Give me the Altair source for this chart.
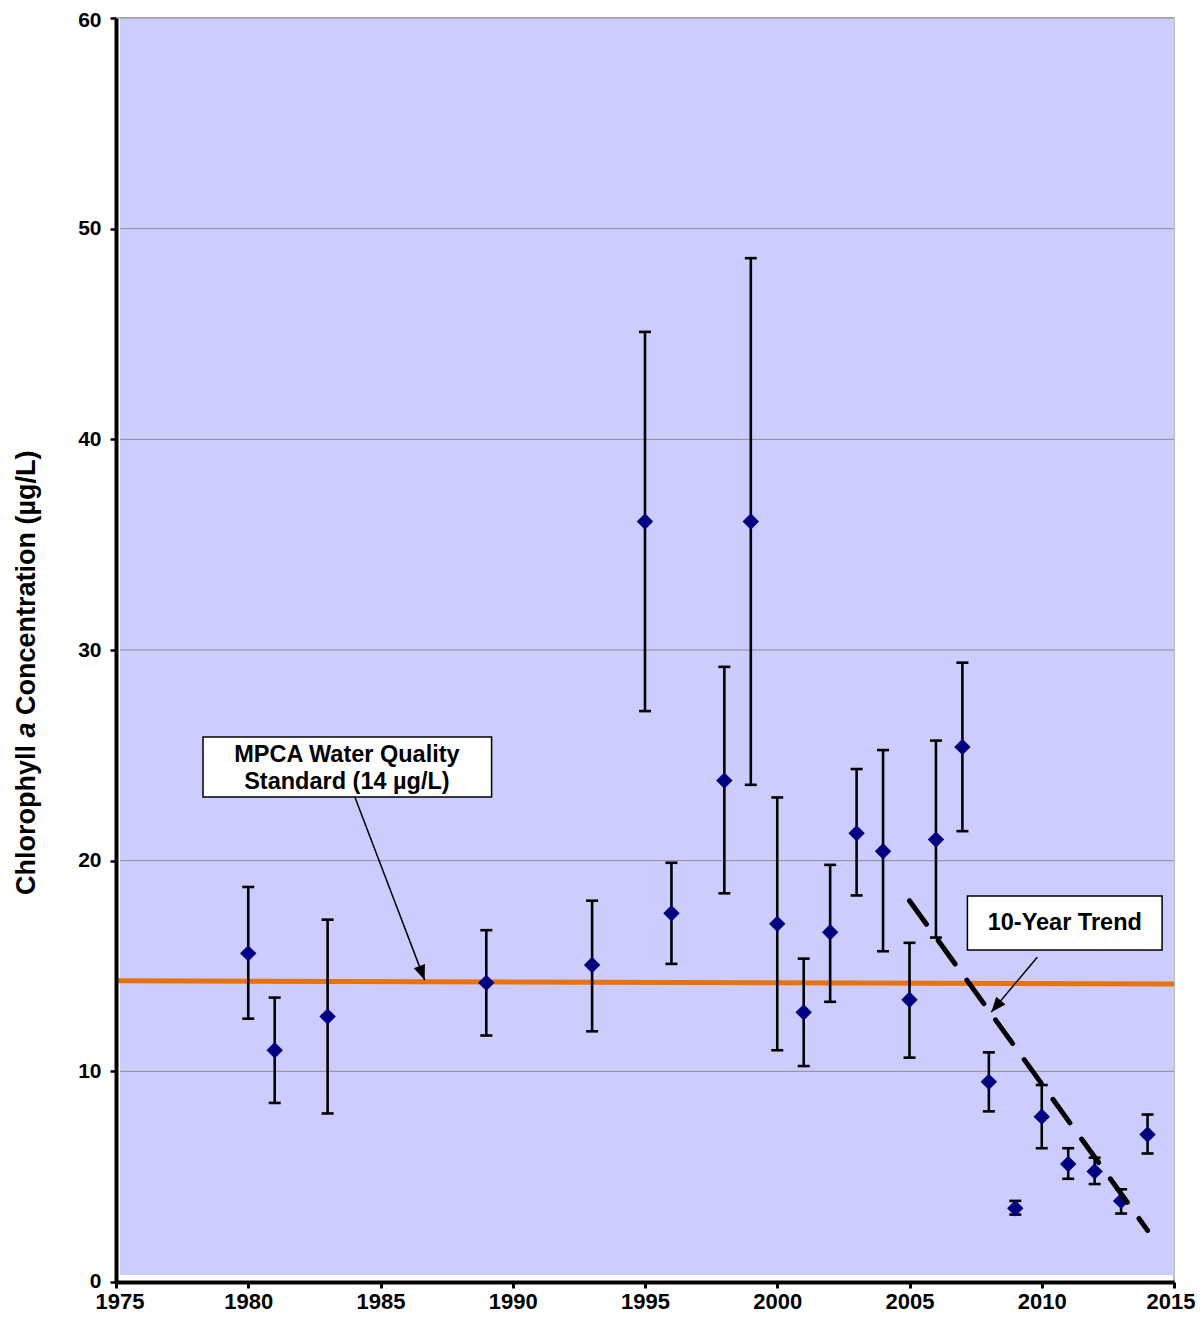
import altair as alt
import pandas as pd

# ---------------- data ----------------
years = [1980, 1981, 1983, 1989, 1993, 1995, 1996, 1998, 1999, 2000, 2001, 2002,
         2003, 2004, 2005, 2006, 2007, 2008, 2009, 2010, 2011, 2012, 2013, 2014]
means = [15.6, 11.0, 12.6, 14.2, 15.05, 36.1, 17.5, 23.8, 36.1, 17.0, 12.8, 16.6,
         21.3, 20.45, 13.4, 21.0, 25.4, 9.5, 3.5, 7.85, 5.6, 5.25, 3.85, 7.0]
uppers = [18.75, 13.5, 17.2, 16.7, 18.1, 45.1, 19.9, 29.2, 48.6, 23.0, 15.35, 19.8,
          24.35, 25.25, 16.1, 25.7, 29.4, 10.9, 3.85, 9.35, 6.35, 5.9, 4.4, 7.95]
lowers = [12.5, 8.5, 8.0, 11.7, 11.9, 27.1, 15.1, 18.45, 23.6, 11.0, 10.25, 13.3,
          18.35, 15.7, 10.65, 16.35, 21.4, 8.1, 3.2, 6.35, 4.9, 4.65, 3.25, 6.1]

std_x = [1975, 2015]
std_y = [14.3, 14.15]

trend_x = [2005, 2014]
trend_y = [18.1, 2.45]

x_ticks = [1975, 1980, 1985, 1990, 1995, 2000, 2005, 2010, 2015]
y_ticks = [0, 10, 20, 30, 40, 50, 60]
grid_vals = [10, 20, 30, 40, 50, 60]

box_x1 = [1978.29, 2007.19]
box_x2 = [1989.2, 2014.55]
box_y1 = [25.87, 18.32]
box_y2 = [23.02, 15.76]

text_lines = ["MPCA Water Quality", "Standard (14 µg/L)", "10-Year Trend"]
text_x = [1983.73, 1983.73, 2010.87]
text_y = [25.03, 23.75, 17.04]

arrow_x1 = [1984.03, 2009.83]
arrow_y1 = [23.02, 15.42]
arrow_x2 = [1986.67, 2008.09]
arrow_y2 = [14.33, 12.81]
arrow_angle = [159.1, 219.9]

# ---------------- layout ----------------
W, H = 1058, 1264
FONT = "Liberation Sans"

df = pd.DataFrame({"year": years, "mean": means, "upper": uppers, "lower": lowers})
std_df = pd.DataFrame({"x": std_x, "y": std_y})
trend_df = pd.DataFrame({"x": trend_x, "y": trend_y})
grid_df = pd.DataFrame({"g": grid_vals})
box_df = pd.DataFrame({"x1": box_x1, "x2": box_x2, "y1": box_y1, "y2": box_y2})
text_df = pd.DataFrame({"t": text_lines, "x": text_x, "y": text_y})
arrow_df = pd.DataFrame({"x1": arrow_x1, "y1": arrow_y1, "x2": arrow_x2, "y2": arrow_y2,
                         "ang": arrow_angle})
one = pd.DataFrame({"a": [0]})


def xenc(field):
    return alt.X(f"{field}:Q",
                 scale=alt.Scale(domain=[1975, 2015], nice=False, zero=False),
                 axis=alt.Axis(values=x_ticks, format="d", title=None, grid=False, zindex=1,
                               domainColor="black", domainWidth=4,
                               tickColor="black", tickWidth=3, tickSize=6,
                               labelFont=FONT, labelFontSize=22, labelFontWeight="bold",
                               labelColor="black", labelPadding=3, labelFlush=True,
                               labelFlushOffset=21, labelOverlap=False))


def yenc(field):
    return alt.Y(f"{field}:Q",
                 scale=alt.Scale(domain=[0, 60], nice=False, zero=True),
                 axis=alt.Axis(values=y_ticks, format="d", title=None, grid=False, zindex=1,
                               domainColor="black", domainWidth=4,
                               tickColor="black", tickWidth=2.5, tickSize=6,
                               labelFont=FONT, labelFontSize=21, labelFontWeight="bold",
                               labelColor="black", labelPadding=9, labelFlush=True,
                               labelFlushOffset=9, labelOverlap=False))


bg = alt.Chart(one).mark_rect(color="#CCCCFF").encode(
    x=alt.value(4), x2=alt.value(W), y=alt.value(0), y2=alt.value(H - 7))

grid = alt.Chart(grid_df).mark_rule(color="#8c8c8c", strokeWidth=1).encode(
    y=yenc("g"), x=alt.value(4), x2=alt.value(W))

std_line = alt.Chart(std_df).mark_line(color="#E8720C", strokeWidth=5).encode(
    x=xenc("x"), y=yenc("y"))

err = alt.Chart(df).mark_rule(color="black", strokeWidth=2.6).encode(
    x=xenc("year"), y=yenc("lower"), y2="upper:Q")

cap_hi = alt.Chart(df).mark_tick(color="black", orient="horizontal", size=12,
                                 thickness=2.6, opacity=1).encode(
    x=xenc("year"), y=yenc("upper"))
cap_lo = alt.Chart(df).mark_tick(color="black", orient="horizontal", size=12,
                                 thickness=2.6, opacity=1).encode(
    x=xenc("year"), y=yenc("lower"))

pts = alt.Chart(df).mark_point(shape="diamond", filled=True, size=270,
                               color="#000080", opacity=1).encode(
    x=xenc("year"), y=yenc("mean"))

trend = alt.Chart(trend_df).mark_line(color="black", strokeWidth=5,
                                      strokeDash=[29, 20], strokeCap="round").encode(
    x=xenc("x"), y=yenc("y"))

arrows = alt.Chart(arrow_df).mark_rule(color="black", strokeWidth=1.5).encode(
    x=xenc("x1"), y=yenc("y1"), x2="x2:Q", y2="y2:Q")

heads = alt.Chart(arrow_df).mark_point(shape="M0,0L-0.4,1L0.4,1Z", filled=True,
                                       size=900, color="black", opacity=1).encode(
    x=xenc("x2"), y=yenc("y2"), angle=alt.Angle("ang:Q", scale=None))

boxes = alt.Chart(box_df).mark_rect(fill="white", stroke="black", strokeWidth=1.5).encode(
    x=xenc("x1"), x2="x2:Q", y=yenc("y1"), y2="y2:Q")

texts = alt.Chart(text_df).mark_text(font=FONT, fontSize=23.5, fontWeight="bold",
                                     color="black", align="center", baseline="middle").encode(
    x=xenc("x"), y=yenc("y"), text="t:N")

# y-axis title in three pieces (italic "a")
title_kw = dict(font=FONT, fontSize=27, fontWeight="bold", color="black",
                angle=270, baseline="alphabetic")
t1 = alt.Chart(one).mark_text(align="left", **title_kw).encode(
    x=alt.value(-81), y=alt.value(877), text=alt.value("Chlorophyll"))
t2 = alt.Chart(one).mark_text(align="center", fontStyle="italic", **title_kw).encode(
    x=alt.value(-81), y=alt.value(712), text=alt.value("a"))
t3 = alt.Chart(one).mark_text(align="left", **title_kw).encode(
    x=alt.value(-81), y=alt.value(697), text=alt.value("Concentration (µg/L)"))

chart = alt.layer(
    bg, grid, std_line, err, cap_hi, cap_lo, pts, trend, arrows, heads, boxes, texts,
    t1, t2, t3
).properties(
    width=W, height=H,
    autosize=alt.AutoSizeParams(type="none"),
    padding={"left": 108, "top": 10, "right": 22, "bottom": 32},
).configure_view(
    stroke="#a8a8a8", strokeWidth=1.5, fill=None
)

chart.save("out.html", embed_options={"renderer": "svg", "actions": False})
